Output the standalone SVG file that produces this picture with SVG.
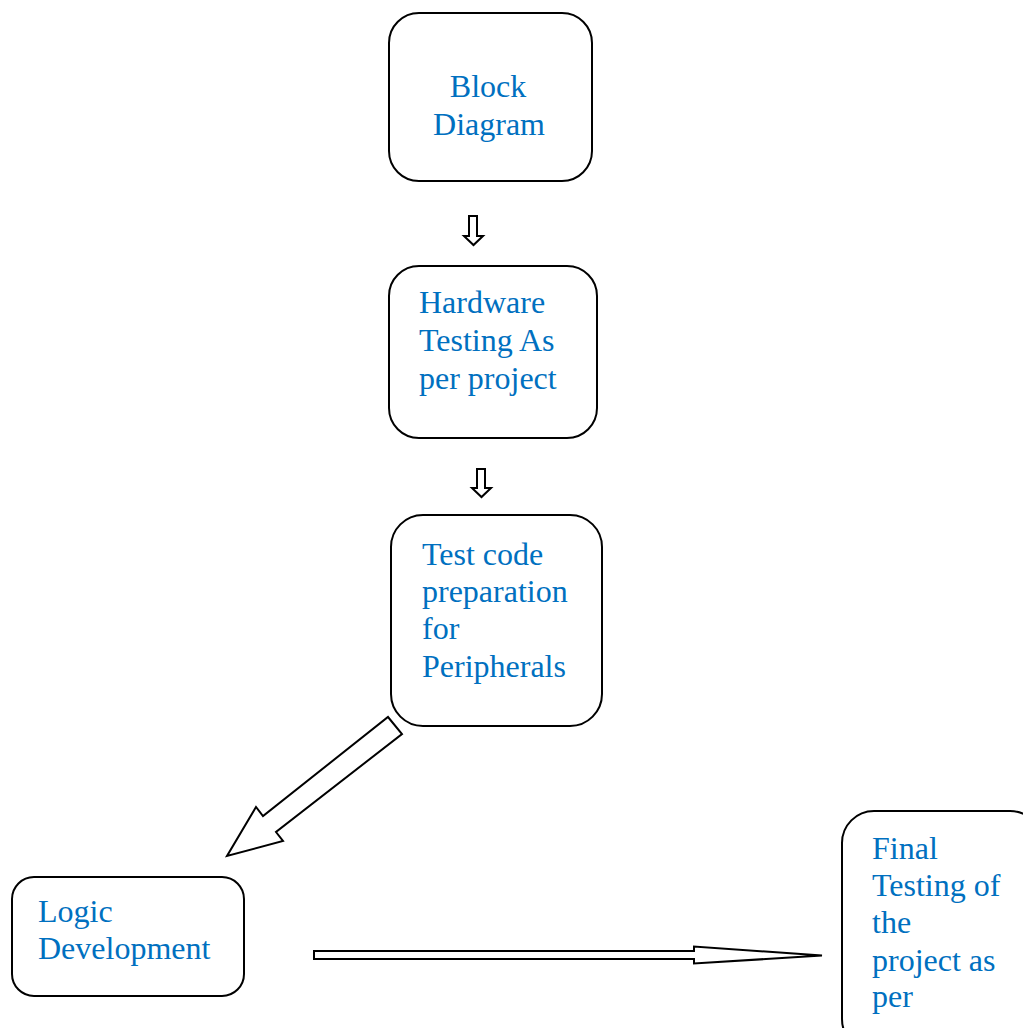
<svg xmlns="http://www.w3.org/2000/svg" width="1023" height="1028" viewBox="0 0 1023 1028">
<style>
.box{fill:#fff;stroke:#000;stroke-width:2}
.t{font-family:"Liberation Serif","Times New Roman",serif;font-size:32px;fill:#0070C0}
.arr{fill:#fff;stroke:#000;stroke-width:2;stroke-linejoin:miter}
</style>
<rect width="1023" height="1028" fill="#fff"/>
<g id="n1">
<rect class="box" x="389" y="13" width="203" height="168" rx="30"/>
<text class="t" x="488" y="97" text-anchor="middle">Block</text>
<text class="t" x="489" y="135" text-anchor="middle">Diagram</text>
</g>
<g id="n2">
<rect class="box" x="389" y="266" width="208" height="172" rx="30"/>
<text class="t" x="419" y="313">Hardware</text>
<text class="t" x="419" y="351">Testing As</text>
<text class="t" x="419" y="389">per project</text>
</g>
<g id="n3">
<rect class="box" x="391" y="515" width="211" height="211" rx="32"/>
<text class="t" x="422" y="565">Test code</text>
<text class="t" x="422" y="602">preparation</text>
<text class="t" x="422" y="639">for</text>
<text class="t" x="422" y="677">Peripherals</text>
</g>
<g id="n4">
<rect class="box" x="12" y="877" width="232" height="119" rx="22"/>
<text class="t" x="38" y="922">Logic</text>
<text class="t" x="38" y="959">Development</text>
</g>
<g id="n5">
<rect class="box" x="842" y="811" width="200" height="240" rx="32"/>
<text class="t" x="872" y="859">Final</text>
<text class="t" x="872" y="896">Testing of</text>
<text class="t" x="872" y="933">the</text>
<text class="t" x="872" y="971">project as</text>
<text class="t" x="872" y="1007">per</text>
</g>
<g id="connectors">
<polygon class="arr" stroke-width="1.5" points="469,216 477,216 477,236 483,236 473.5,245 464,236 469,236"/>
<polygon class="arr" stroke-width="1.5" points="477,469 485,469 485,488 491,488 481.5,497 472,488 477,488"/>
<polygon class="arr" points="388,717 402,734 276,832 283,841 227,856 256,807 263,816"/>
<polygon class="arr" points="314,951 694,951 694,946.5 822,955.5 694,963.5 694,959 314,959"/>
</g>
</svg>
